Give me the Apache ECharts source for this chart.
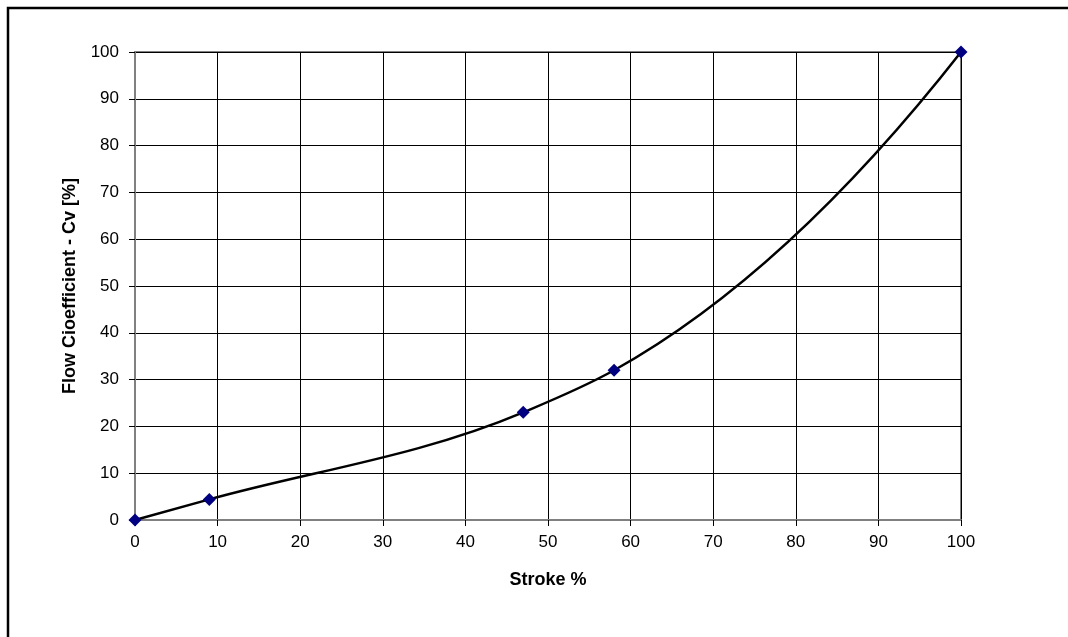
<!DOCTYPE html>
<html>
<head>
<meta charset="utf-8">
<script src="https://cdn.jsdelivr.net/npm/echarts@6/dist/echarts.min.js"></script>
<style>
  html, body { margin: 0; padding: 0; background: #fff; }
  #chart { width: 1068px; height: 637px; }
</style>
</head>
<body>
<div id="chart"></div>
<script>
// stroke % vs flow coefficient
var strokePct = [0, 9, 47, 58, 100];
var cvPct = [0, 4.4, 23, 32, 100];

var FONT = "'Liberation Sans', Arial, sans-serif";

var points = [];
for (var i = 0; i < strokePct.length; i++) {
  points.push([strokePct[i], cvPct[i]]);
}

// tangents like a spreadsheet "smoothed line": weighted slopes at inner points,
// parabolic end conditions at the two ends
function tangents(xs, ys) {
  var n = xs.length, s = [], h = [], m = [];
  for (var k = 0; k < n - 1; k++) {
    h.push(xs[k + 1] - xs[k]);
    s.push((ys[k + 1] - ys[k]) / h[k]);
  }
  for (var k = 1; k < n - 1; k++) {
    m[k] = (h[k] * s[k - 1] + h[k - 1] * s[k]) / (h[k - 1] + h[k]);
  }
  m[0] = n > 2 ? 2 * s[0] - m[1] : s[0];
  m[n - 1] = n > 2 ? 2 * s[n - 2] - m[n - 2] : s[n - 2];
  return m;
}

function renderCurve(params, api) {
  var m = tangents(strokePct, cvPct);
  var p0 = api.coord([strokePct[0], cvPct[0]]);
  var d = 'M' + p0[0] + ' ' + p0[1];
  for (var k = 0; k < strokePct.length - 1; k++) {
    var x0 = strokePct[k], y0 = cvPct[k];
    var x1 = strokePct[k + 1], y1 = cvPct[k + 1];
    var h = (x1 - x0) / 3;
    var c1 = api.coord([x0 + h, y0 + m[k] * h]);
    var c2 = api.coord([x1 - h, y1 - m[k + 1] * h]);
    var e = api.coord([x1, y1]);
    d += ' C' + c1[0] + ' ' + c1[1] + ' ' + c2[0] + ' ' + c2[1] + ' ' + e[0] + ' ' + e[1];
  }
  return {
    type: 'path',
    shape: { pathData: d },
    style: { stroke: '#000', lineWidth: 2.5, fill: 'none' }
  };
}

var myChart = echarts.init(document.getElementById('chart'));

var option = {
  backgroundColor: '#fff',
  animation: false,
  textStyle: { fontFamily: FONT },
  graphic: [{
    type: 'rect',
    shape: { x: 8, y: 8, width: 1100, height: 700 },
    style: { fill: 'none', stroke: '#000', lineWidth: 2.5 },
    z: 100
  }],
  grid: {
    left: 135,
    right: 107,
    top: 52,
    bottom: 117,
    show: true,
    borderColor: '#808080',
    borderWidth: 2
  },
  xAxis: {
    type: 'value',
    min: 0,
    max: 100,
    interval: 10,
    name: 'Stroke %',
    nameLocation: 'middle',
    nameGap: 51,
    nameTextStyle: { fontFamily: FONT, fontSize: 18, fontWeight: 'bold', color: '#000' },
    axisLine: { lineStyle: { color: '#808080', width: 2 } },
    axisTick: { show: true, length: 6, lineStyle: { color: '#000' } },
    axisLabel: { margin: 14, fontFamily: FONT, fontSize: 17, color: '#000' },
    splitLine: { show: true, lineStyle: { color: '#000', width: 1 } }
  },
  yAxis: {
    type: 'value',
    min: 0,
    max: 100,
    interval: 10,
    name: 'Flow Cioefficient - Cv [%]',
    nameLocation: 'middle',
    nameGap: 56,
    nameTextStyle: { fontFamily: FONT, fontSize: 18, fontWeight: 'bold', color: '#000' },
    axisLine: { show: true, lineStyle: { color: '#808080', width: 2 } },
    axisTick: { show: true, length: 6, lineStyle: { color: '#000' } },
    axisLabel: { margin: 16, fontFamily: FONT, fontSize: 17, color: '#000' },
    splitLine: { show: true, lineStyle: { color: '#000', width: 1 } }
  },
  series: [
    {
      type: 'custom',
      data: [0],
      renderItem: renderCurve,
      silent: true,
      z: 4
    },
    {
      type: 'scatter',
      data: points,
      symbol: 'diamond',
      symbolSize: 13,
      itemStyle: { color: '#000080', borderWidth: 0, opacity: 1 },
      z: 5
    }
  ]
};

option && myChart.setOption(option);
</script>
</body>
</html>
